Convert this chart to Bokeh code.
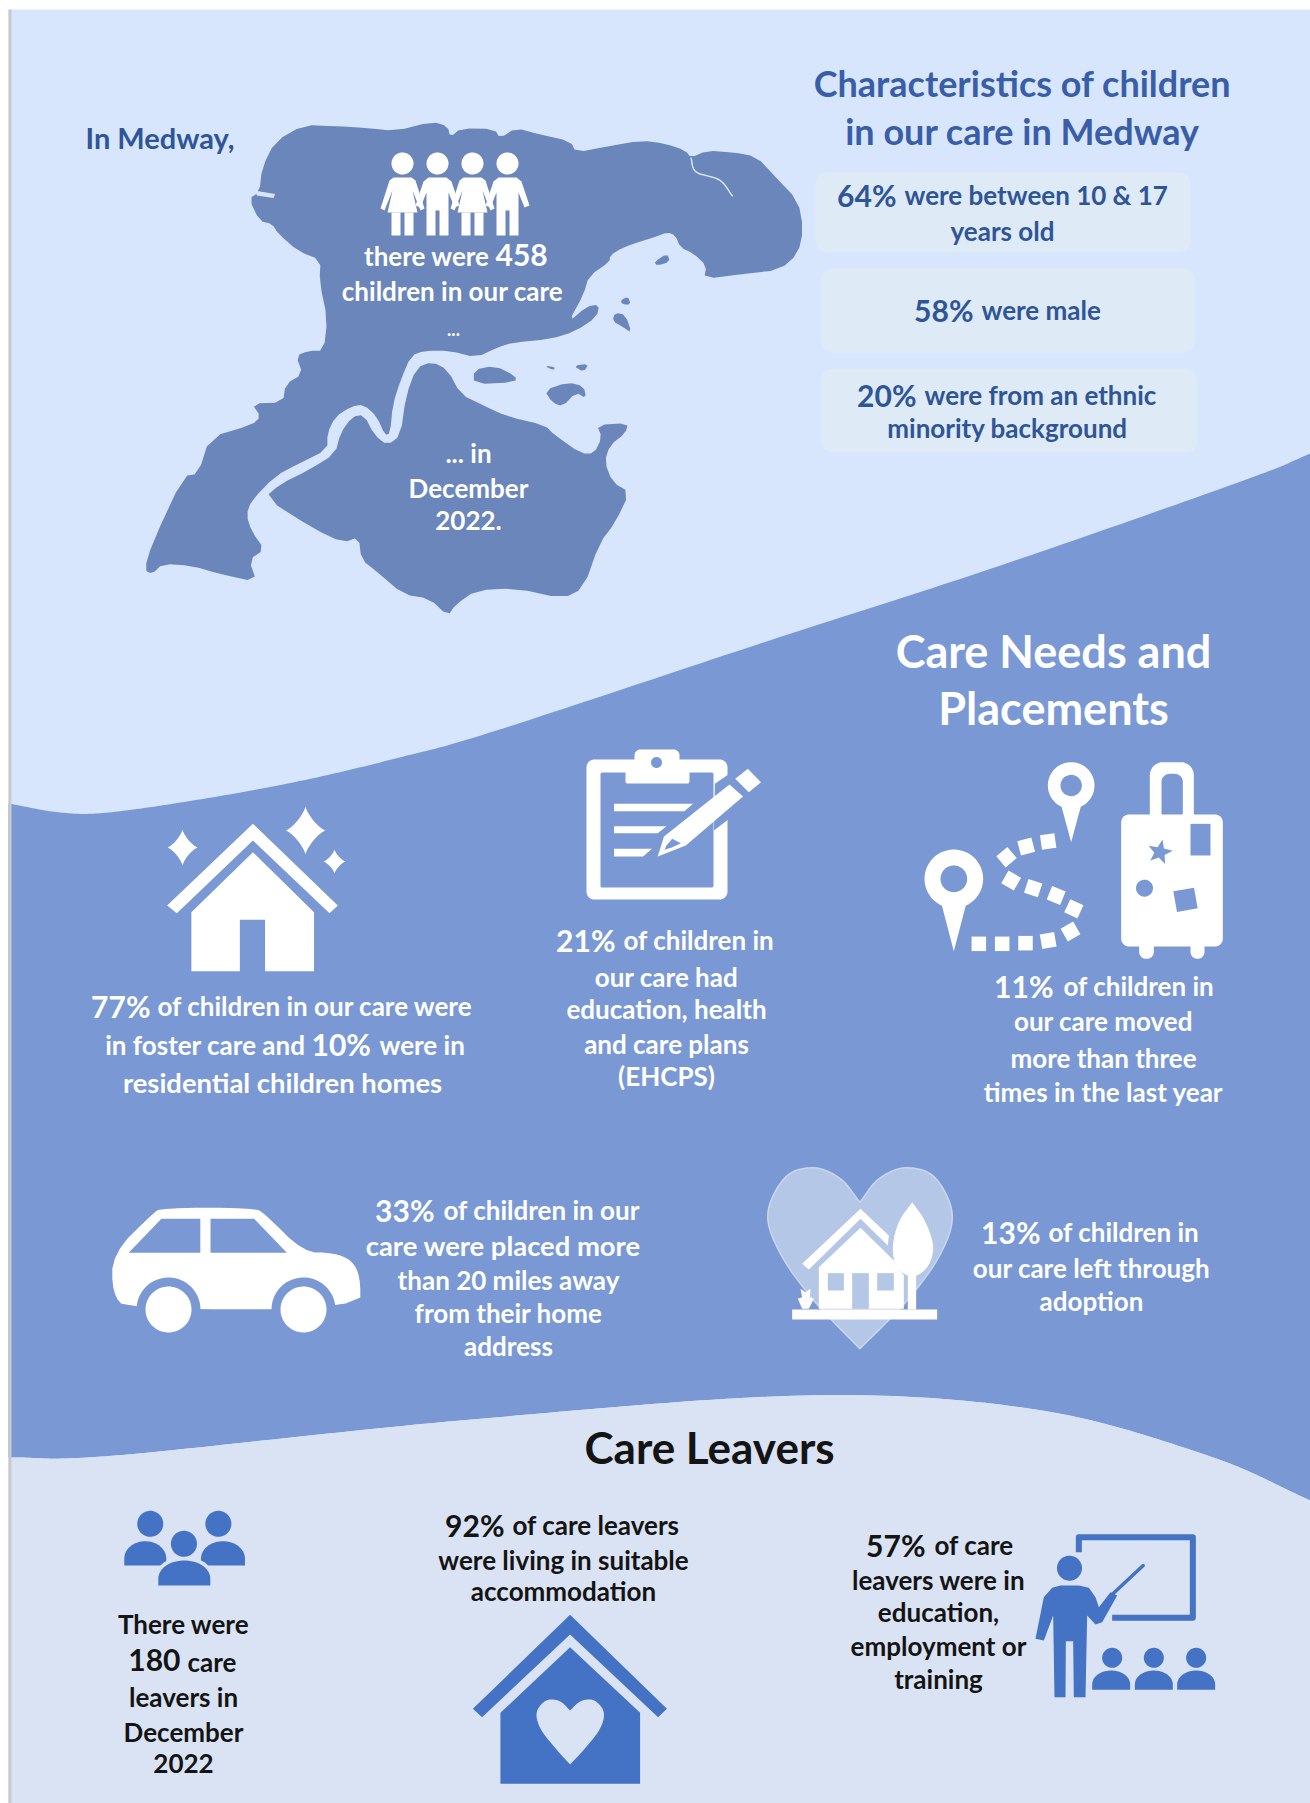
import numpy as np
from bokeh.plotting import figure
from bokeh.models import Range1d
from bokeh.core.properties import value
from bokeh.embed import file_html
from bokeh.resources import INLINE

# ---------- chart content ----------
CHILDREN_IN_CARE = "458"
CARE_LEAVERS = "180"
CHARACTERISTIC_PCT = ["64%", "58%", "20%"]
PLACEMENT_PCT = ["77%", "10%", "21%", "11%", "33%", "13%"]
LEAVER_PCT = ["92%", "57%"]
TITLE_CHAR = ["Characteristics of children", "in our care in Medway"]
TITLE_NEEDS = ["Care Needs and", "Placements"]
TITLE_LEAVERS = "Care Leavers"
DATE_LINES = ["... in", "December", "2022."]
EHCP_LINES = ["our care had", "education, health", "and care plans", "(EHCPS)"]
MOVES_LINES = ["our care moved", "more than three", "times in the last year"]
MILES_LINES = ["care  were placed more", "than 20 miles away", "from their home", "address"]
ADOPT_LINES = ["our care left through", "adoption"]
LEAVERS_LINES = ["leavers in", "December", "2022"]
SUITABLE_LINES = ["were living in suitable", "accommodation"]
EET_LINES = ["leavers were in", "education,", "employment or", "training"]

# ---------- colours ----------
LIGHT = "#D7E6FD"
MID = "#7A99D4"
PALE = "#DAE3F3"
MAP = "#6A86BA"
BOX = "#DEEAF6"
BLUE = "#4472C4"
TITLEC = "#3A5DA8"
INK = "#2F5597"
BLACK = "#141414"
HEART = "#B4C7E7"

BODY = 26
BIG = 30

W, H = 1310, 1803
p = figure(width=W, height=H, x_range=Range1d(0, W), y_range=Range1d(H, 0),
           output_backend="svg", toolbar_location=None, min_border=0,
           background_fill_color="white", border_fill_color="white", outline_line_color=None)
p.axis.visible = False
p.grid.visible = False


def catmull(pts, n=24):
    P = np.array(pts, float)
    P = np.vstack([2 * P[0] - P[1], P, 2 * P[-1] - P[-2]])
    out = []
    for i in range(1, len(P) - 2):
        t = np.linspace(0, 1, n, endpoint=False)[:, None]
        a, b, c, d = P[i - 1], P[i], P[i + 1], P[i + 2]
        out.append(0.5 * (2 * b + (c - a) * t + (2 * a - 5 * b + 4 * c - d) * t ** 2 + (3 * b - a - 3 * c + d) * t ** 3))
    out.append(P[-2][None, :])
    return np.vstack(out)


def chaikin(pts, passes=1):
    P = np.array(pts, float)
    for _ in range(passes):
        Q = np.roll(P, -1, axis=0)
        P = np.vstack([np.c_[0.75 * P + 0.25 * Q], np.c_[0.25 * P + 0.75 * Q]])[
            np.argsort(np.r_[np.arange(len(P)) * 2, np.arange(len(P)) * 2 + 1])]
    return [tuple(a) for a in P]


def poly(pts, color, **kw):
    a = np.array(pts, float)
    p.patch(a[:, 0], a[:, 1], fill_color=color, line_color=None, **kw)


def zoomer(x0, y0, sx, sy):
    def f(pts):
        return [(x0 + a / sx, y0 + b / sy) for a, b in pts]
    return f


def circle(cx, cy, r, color, **kw):
    t = np.linspace(0, 2 * np.pi, 60)
    poly(np.c_[cx + r * np.cos(t), cy + r * np.sin(t)], color, **kw)


def rrect(x0, y0, x1, y1, r, color, **kw):
    t = np.linspace(0, np.pi / 2, 10)
    c = np.cos(t) * r
    s = np.sin(t) * r
    pts = np.vstack([
        np.c_[x1 - r + c, y1 - r + s],
        np.c_[x0 + r - s, y1 - r + c],
        np.c_[x0 + r - c, y0 + r - s],
        np.c_[x1 - r + s, y0 + r - c],
    ])
    poly(pts, color, **kw)


def dome(cx, hw, top, bottom, color):
    t = np.linspace(np.pi, 2 * np.pi, 30)
    h = (bottom - top) * 0.72
    arc = np.c_[cx + hw * np.cos(t), top + h + h * np.sin(t)]
    poly(np.vstack([[cx - hw, bottom], arc, [cx + hw, bottom]]), color)


def sparkle(cx, cy, rx, ry, color, k=2.6):
    t = np.linspace(0, 2 * np.pi, 80)
    c, s = np.cos(t), np.sin(t)
    poly(np.c_[cx + rx * np.sign(c) * np.abs(c) ** k, cy + ry * np.sign(s) * np.abs(s) ** k], color)


def rot_square(cx, cy, size, deg, color):
    a = np.radians(deg)
    h = size / 2
    q = np.array([(-h, -h), (h, -h), (h, h), (-h, h)])
    R = np.array([[np.cos(a), -np.sin(a)], [np.sin(a), np.cos(a)]])
    poly(q @ R.T + [cx, cy], color)


def pin(cx, cy, r, tip, hole, color, bg):
    d = tip - cy
    a = np.arcsin(r / d)
    t = np.linspace(np.pi / 2 + a, 2 * np.pi + np.pi / 2 - a, 50)
    arc = np.c_[cx + r * np.cos(t), cy + r * np.sin(t)]
    poly(np.vstack([arc, [cx, tip]]), color)
    circle(cx, cy, hole, bg)


def txt(x, y, s, size, color, align="center", bold=True):
    p.text([x], [y - 2.5], text=[s], text_font=value("Lato"), text_font_size=f"{size}px",
           text_font_style="bold" if bold else "normal", text_color=color,
           text_align=align, text_baseline="middle")


def mixed(xb, y, big, rest, bsize, size, color, gap=8):
    """big part right-aligned at xb, remainder left-aligned after it"""
    txt(xb, y, big, bsize, color, "right")
    txt(xb + gap, y, rest, size, color, "left")


# ---------- bands ----------
p.quad(left=[8], right=[W], top=[9], bottom=[H], fill_color=LIGHT, line_color=None)
top_curve = catmull([(8, 803), (60, 812), (108, 812), (205, 798), (302, 780), (399, 757), (496, 730),
                     (769, 640), (1000, 565), (1243, 480), (1310, 453)])
bot_curve = catmull([(1310, 1500), (1207, 1455), (1035, 1409), (805, 1395), (460, 1420), (115, 1455), (8, 1457)])
poly(np.vstack([top_curve, bot_curve]), MID)
poly(np.vstack([bot_curve, [(8, 1803)], [(1310, 1803)]]), PALE)
p.quad(left=[8], right=[11], top=[9], bottom=[H], fill_color="#C9C9C9", line_color=None)

# ---------- map ----------
Zm = zoomer(0, 0, 1.912, 2.45)
north = [(525, 345), (580, 305), (640, 308), (700, 312), (755, 320), (825, 297), (855, 308), (860, 335), (880, 313),
         (945, 315), (955, 338), (985, 312), (1030, 328), (1090, 345), (1100, 372), (1160, 358), (1225, 343),
         (1270, 350), (1310, 368), (1320, 385), (1350, 368), (1400, 372), (1445, 382), (1480, 430), (1525, 490),
         (1535, 560), (1525, 620), (1490, 660), (1420, 670), (1345, 682), (1350, 650), (1325, 620), (1300, 605),
         (1290, 575), (1275, 568), (1250, 580), (1225, 590), (1190, 605), (1165, 625), (1165, 640), (1125, 675),
         (1115, 720), (1085, 790), (1120, 750), (1145, 745), (1140, 775), (1100, 810), (1050, 830), (980, 838),
         (950, 850), (910, 875), (860, 858), (810, 858), (785, 870), (765, 930), (750, 990), (745, 1060), (735, 1065),
         (720, 1020), (695, 990), (670, 995), (640, 1020), (625, 1060), (625, 1100), (570, 1135), (525, 1165),
         (480, 1225), (470, 1260), (480, 1300), (505, 1345), (475, 1370), (490, 1425), (420, 1405), (365, 1385),
         (310, 1380), (290, 1405), (275, 1395), (290, 1330), (350, 1165), (378, 1160), (400, 1070), (480, 1040),
         (498, 1020), (480, 987), (540, 985), (545, 940), (578, 915), (565, 870), (590, 858), (618, 858), (625, 780),
         (610, 690), (612, 635), (570, 615), (530, 570), (520, 548), (495, 540), (475, 485), (495, 470), (500, 410)]
south = [(505, 1218), (535, 1185), (590, 1150), (640, 1110), (650, 1060), (672, 1020), (695, 1015), (715, 1065),
         (740, 1090), (765, 1065), (775, 970), (795, 900), (825, 885), (855, 905), (880, 965), (920, 990), (970, 1020),
         (1040, 1040), (1060, 1065), (1110, 1110), (1135, 1110), (1150, 1070), (1140, 1040), (1200, 1035), (1195, 1060),
         (1165, 1090), (1155, 1130), (1170, 1180), (1203, 1205), (1175, 1280), (1145, 1330), (1115, 1440), (1075, 1465),
         (985, 1440), (910, 1445), (870, 1480), (855, 1508), (820, 1465), (770, 1455), (720, 1400), (690, 1370),
         (685, 1315), (655, 1328), (600, 1295)]
islands = [[(905, 905), (945, 895), (985, 920), (985, 935), (905, 940)],
           [(1040, 955), (1085, 935), (1115, 945), (1120, 975), (1100, 960), (1075, 995), (1055, 985)],
           [(1175, 765), (1195, 770), (1207, 815), (1190, 800), (1170, 785)],
           [(1185, 735), (1200, 725), (1205, 745), (1190, 745)],
           [(1095, 895), (1125, 890), (1115, 910)],
           [(1040, 895), (1060, 898), (1058, 906)],
           [(1250, 640), (1275, 620), (1280, 640), (1255, 650)]]
poly(Zm(chaikin(north)), MAP)
poly(Zm(chaikin(south)), MAP)
for isl in islands:
    poly(Zm(chaikin(isl)), MAP)
poly(Zm([(488, 466), (525, 474), (522, 484), (490, 478)]), LIGHT)
creek = catmull(Zm([(1320, 385), (1330, 420), (1375, 440), (1400, 480)]), 8)
p.line(creek[:, 0], creek[:, 1], line_color=LIGHT, line_width=1.5)

# children figures
for i, cx in enumerate([402, 437, 472, 507]):
    circle(cx, 163, 11, "white")
    if i % 2 == 0:  # girl
        poly([(cx - 9, 177), (cx + 9, 177), (cx + 13, 180), (cx + 22, 208), (cx + 18, 210), (cx + 10, 190),
              (cx + 15, 212), (cx - 15, 212), (cx - 10, 190), (cx - 18, 210), (cx - 22, 208), (cx - 13, 180)], "white")
        poly([(cx - 11, 212), (cx - 2, 212), (cx - 2, 235), (cx - 11, 235)], "white")
        poly([(cx + 2, 212), (cx + 11, 212), (cx + 11, 235), (cx + 2, 235)], "white")
    else:  # boy
        poly([(cx - 9, 177), (cx + 9, 177), (cx + 14, 181), (cx + 22, 205), (cx + 17, 207), (cx + 11, 192),
              (cx + 11, 235), (cx + 2, 235), (cx + 2, 210), (cx - 2, 210), (cx - 2, 235), (cx - 11, 235),
              (cx - 11, 192), (cx - 17, 207), (cx - 22, 205), (cx - 14, 181)], "white")

txt(85, 139, "In Medway,", 29, INK, "left")
txt(489, 258, "there were", BODY, "white", "right")
txt(495, 257, CHILDREN_IN_CARE, 30, "white", "left")
txt(452, 293, "children in our care", BODY, "white")
txt(453, 331, "...", 18, "white")
for y, s in zip([455, 490, 522], DATE_LINES):
    txt(468, y, s, BODY, "white")

# ---------- characteristics ----------
for y, s in zip([85, 133], TITLE_CHAR):
    txt(1022, y, s, 36, TITLEC)
for x0, y0, x1, y1 in [(815, 172, 1190, 252), (820, 268, 1195, 352), (820, 368, 1197, 452)]:
    rrect(x0, y0, x1, y1, 12, BOX)
mixed(896, 197, CHARACTERISTIC_PCT[0], "were between 10 & 17", BIG, BODY, INK)
txt(1002, 233, "years old", BODY, INK)
mixed(973, 312, CHARACTERISTIC_PCT[1], "were male", BIG, BODY, INK)
mixed(916, 397, CHARACTERISTIC_PCT[2], "were from an ethnic", BIG, BODY, INK)
txt(1007, 430, "minority background", BODY, INK)

# ---------- care needs ----------
for y, s in zip([653, 710], TITLE_NEEDS):
    txt(1053, y, s, 45, "white")

# sparkling house
Z3 = zoomer(60, 730, 2.063, 3)
poly(Z3([(397, 280), (572, 525), (555, 548), (397, 330), (240, 548), (220, 525)]), "white")
poly(Z3([(397, 365), (523, 545), (523, 722), (422, 722), (422, 568), (370, 568), (370, 722), (270, 722), (270, 545)]), "white")
sparkle(182, 847, 15, 18, "white")
sparkle(305, 830, 20, 24, "white")
sparkle(334, 861, 11, 12, "white")

# clipboard
rrect(586, 759, 727, 899, 8, "white")
rrect(600, 772, 713, 887, 2, MID)
poly(Z3([(1350, 160), (1395, 115), (1455, 180), (1348, 300)]), MID)
rrect(625, 760, 689, 783, 2, "white")
rrect(634, 749, 679, 765, 6, "white")
circle(656, 762, 5.5, MID)
for a, b, c, d in [(1142, 1305, 220, 242), (1142, 1250, 287, 308), (1142, 1220, 355, 378)]:
    poly(Z3([(a, c), (b, c), (b - 18, d), (a, d)]), "white")
poly(Z3([(1392, 145), (1418, 115), (1445, 155), (1420, 185)]), "white")
poly(Z3([(1380, 162), (1408, 198), (1290, 345), (1232, 378), (1245, 318)]), "white")
poly(Z3([(1250, 345), (1262, 325), (1280, 338), (1262, 350), (1246, 358)]), MID)

# route and suitcase
Z4 = zoomer(880, 740, 3, 3)
def s4(v):
    return v / 3
cx, cy = Z4([(220, 415)])[0]
pin(cx, cy, s4(88), 740 + 632 / 3, s4(40), "white", MID)
cx, cy = Z4([(572, 135)])[0]
pin(cx, cy, s4(70), 740 + 305 / 3, s4(32), "white", MID)
for zx, zy, deg in [(295, 610, 0), (365, 610, 0), (435, 608, 0), (503, 600, -10), (570, 573, -30), (580, 505, 25),
                    (527, 465, 22), (458, 443, 18), (392, 420, 30), (378, 350, -40), (437, 318, -15), (503, 303, -8)]:
    x, y = Z4([(zx, zy)])[0]
    rot_square(x, y, 14.5, deg, "white")
rrect(*sum(Z4([(808, 65), (940, 260)]), ()), 13, "white")
rrect(*sum(Z4([(843, 100), (907, 240)]), ()), 8, MID)
rrect(*sum(Z4([(722, 222), (1027, 618)]), ()), 8, "white")
rrect(*sum(Z4([(776, 600), (820, 655)]), ()), 7, "white")
rrect(*sum(Z4([(930, 600), (972, 655)]), ()), 7, "white")
poly(Z4([(930, 250), (990, 250), (990, 345), (930, 345)]), MID)
x, y = Z4([(792, 443)])[0]
circle(x, y, 8.5, MID)
x, y = Z4([(915, 478)])[0]
rot_square(x, y, 21, -10, MID)
x, y = Z4([(838, 335)])[0]
ang = np.radians(np.arange(10) * 36 - 90 + 12)
rad = np.array([13, 5.5] * 5)
poly(np.c_[x + rad * np.cos(ang), y + rad * np.sin(ang)], MID)

mixed(150, 1008, PLACEMENT_PCT[0], "of children in our care were", BIG, BODY, "white", 7)
txt(305, 1047, "in foster care and", BODY, "white", "right")
txt(311, 1046, PLACEMENT_PCT[1], BIG, "white", "left")
txt(379, 1047, "were in", BODY, "white", "left")
txt(282, 1084, "residential children homes", 27.4, "white")
mixed(615, 942, PLACEMENT_PCT[2], "of children in", BIG, BODY, "white")
for y, s in zip([979, 1011, 1046, 1078], EHCP_LINES):
    txt(666, y, s, BODY, "white")
mixed(1053, 988, PLACEMENT_PCT[3], "of children in", BIG, BODY, "white", 10)
for y, s in zip([1023, 1060, 1094], MOVES_LINES):
    txt(1103, y, s, BODY, "white")

# car
Z5 = zoomer(90, 1160, 2.75, 3)
body = chaikin([(60, 280), (170, 160), (195, 142), (450, 142), (480, 160), (585, 275), (670, 277), (720, 300),
                (742, 350), (742, 447), (100, 447), (60, 400)], 2)
poly(Z5(body), "white")
poly(Z5([(105, 277), (195, 175), (302, 175), (302, 277)]), MID)
poly(Z5([(330, 175), (450, 175), (540, 277), (330, 277)]), MID)
for wx in [168, 303]:
    circle(wx, 1309, 32, MID)
poly(Z5([(300, 447), (505, 447), (505, 560), (300, 560)]), MID)
poly(Z5([(675, 447), (760, 447), (760, 560), (675, 560)]), MID)
poly(Z5([(50, 447), (130, 447), (130, 560), (50, 560)]), MID)
for wx in [168, 303]:
    circle(wx, 1309, 23, "white")
mixed(434, 1212, PLACEMENT_PCT[4], "of children in our", BIG, BODY, "white", 9)
txt(506, 1247, MILES_LINES[0], 27.4, "white")
for y, s in zip([1282, 1315, 1348], MILES_LINES[1:]):
    txt(508, y, s, BODY, "white")

# heart with house
Z6 = zoomer(750, 1150, 3, 3)
hl = catmull([(328, 155), (270, 85), (190, 52), (105, 80), (52, 190), (90, 310), (190, 450), (328, 595)], 12)
hr = catmull([(328, 595), (470, 450), (570, 310), (605, 190), (552, 80), (465, 52), (385, 85), (328, 155)], 12)
hp = np.array(Z6([tuple(a) for a in np.vstack([hl, hr])]))
p.patch(hp[:, 0], hp[:, 1], fill_color=HEART, line_color="#C9D7EE", line_width=1.5)
poly(Z6([(205, 475), (205, 350), (330, 232), (430, 330), (460, 375), (460, 475)]), "white")
poly(Z6([(155, 340), (330, 175), (415, 255), (412, 285), (330, 205), (175, 357)]), "white")
poly(Z6([(125, 477), (560, 477), (560, 507), (125, 507)]), "white")
for a, b, c, d in [(232, 280, 368, 420), (305, 355, 368, 475), (380, 430, 368, 420)]:
    poly(Z6([(a, c), (b, c), (b, d), (a, d)]), HEART)
tree = catmull([(485, 155), (525, 215), (548, 290), (530, 350), (485, 378), (440, 350), (427, 290), (445, 215), (485, 155)], 10)
poly(Z6([tuple(a) for a in tree]), "white")
poly(Z6([(472, 370), (497, 370), (497, 477), (472, 477)]), "white")
poly(Z6([(150, 415), (165, 425), (180, 415), (178, 440), (190, 445), (175, 475), (155, 475), (142, 445), (155, 440)]), "white")

mixed(1040, 1234, PLACEMENT_PCT[5], "of children in", BIG, BODY, "white")
for y, s in zip([1270, 1303], ADOPT_LINES):
    txt(1091, y, s, BODY, "white")

# ---------- care leavers ----------
txt(709, 1449, TITLE_LEAVERS, 44, BLACK)

Z7 = zoomer(100, 1480, 2.613, 3)
X7 = lambda v: 100 + v / 2.613
Y7 = lambda v: 1480 + v / 3
circle(X7(130), Y7(130), 13, BLUE)
circle(X7(308), Y7(130), 13, BLUE)
dome(X7(117), 21, Y7(182), Y7(255), BLUE)
dome(X7(320), 22, Y7(182), Y7(255), BLUE)
circle(X7(218), Y7(190), 16, PALE)
dome(X7(219), 31, Y7(228), Y7(330), PALE)
circle(X7(218), Y7(190), 13, BLUE)
dome(X7(219), 26, Y7(240), Y7(315), BLUE)

txt(183, 1626, "There were", BODY, BLACK)
txt(180, 1662, CARE_LEAVERS, 30, BLACK, "right")
txt(187, 1664, "care", BODY, BLACK, "left")
for y, s in zip([1699, 1734, 1765], LEAVERS_LINES):
    txt(183, y, s, BODY, BLACK)

mixed(504, 1527, LEAVER_PCT[0], "of care leavers", BIG, BODY, BLACK)
for y, s in zip([1562, 1593], SUITABLE_LINES):
    txt(563, y, s, BODY, BLACK)

poly(Z7([(1227, 403), (1480, 685), (1457, 710), (1227, 462), (997, 710), (973, 685)]), BLUE)
poly(Z7([(1227, 500), (1410, 697), (1410, 910), (1045, 910), (1045, 697)]), BLUE)
h1 = catmull([(1227, 690), (1200, 662), (1165, 660), (1140, 695), (1150, 745), (1190, 805), (1227, 852)], 8)
h2 = catmull([(1227, 852), (1265, 805), (1305, 745), (1315, 695), (1290, 660), (1255, 662), (1227, 690)], 8)
poly(Z7([tuple(a) for a in np.vstack([h1, h2])]), PALE)

mixed(925, 1547, LEAVER_PCT[1], "of care", BIG, BODY, BLACK, 9)
for y, s in zip([1582, 1614, 1648, 1681], EET_LINES):
    txt(938, y, s, BODY, BLACK)

Z8 = zoomer(830, 1500, 3, 3)
X8 = lambda v: 830 + v / 3
Y8 = lambda v: 1500 + v / 3
bd = np.array(Z8([(745, 155), (745, 110), (1087, 110), (1087, 352), (845, 352)]))
p.line(bd[:, 0], bd[:, 1], line_color=BLUE, line_width=6, line_join="round")
circle(X8(717), Y8(203), 12.5, BLUE)
poly(Z8([(640, 290), (665, 262), (690, 255), (745, 255), (775, 262), (795, 290), (805, 320), (840, 275), (860, 285),
         (815, 365), (795, 372), (770, 345), (765, 590), (730, 590), (728, 422), (706, 422), (705, 590), (672, 590),
         (668, 345), (640, 420), (615, 415)]), BLUE)
ptr = np.array(Z8([(845, 282), (938, 195)]))
p.line(ptr[:, 0], ptr[:, 1], line_color=BLUE, line_width=3.5, line_cap="round")
for hx, dx in [(845, 842), (970, 970), (1097, 1097)]:
    circle(X8(hx), Y8(472), 10, BLUE)
    dome(X8(dx), 19, Y8(510), Y8(568), BLUE)

open("out.html", "w").write(file_html(p, INLINE))
